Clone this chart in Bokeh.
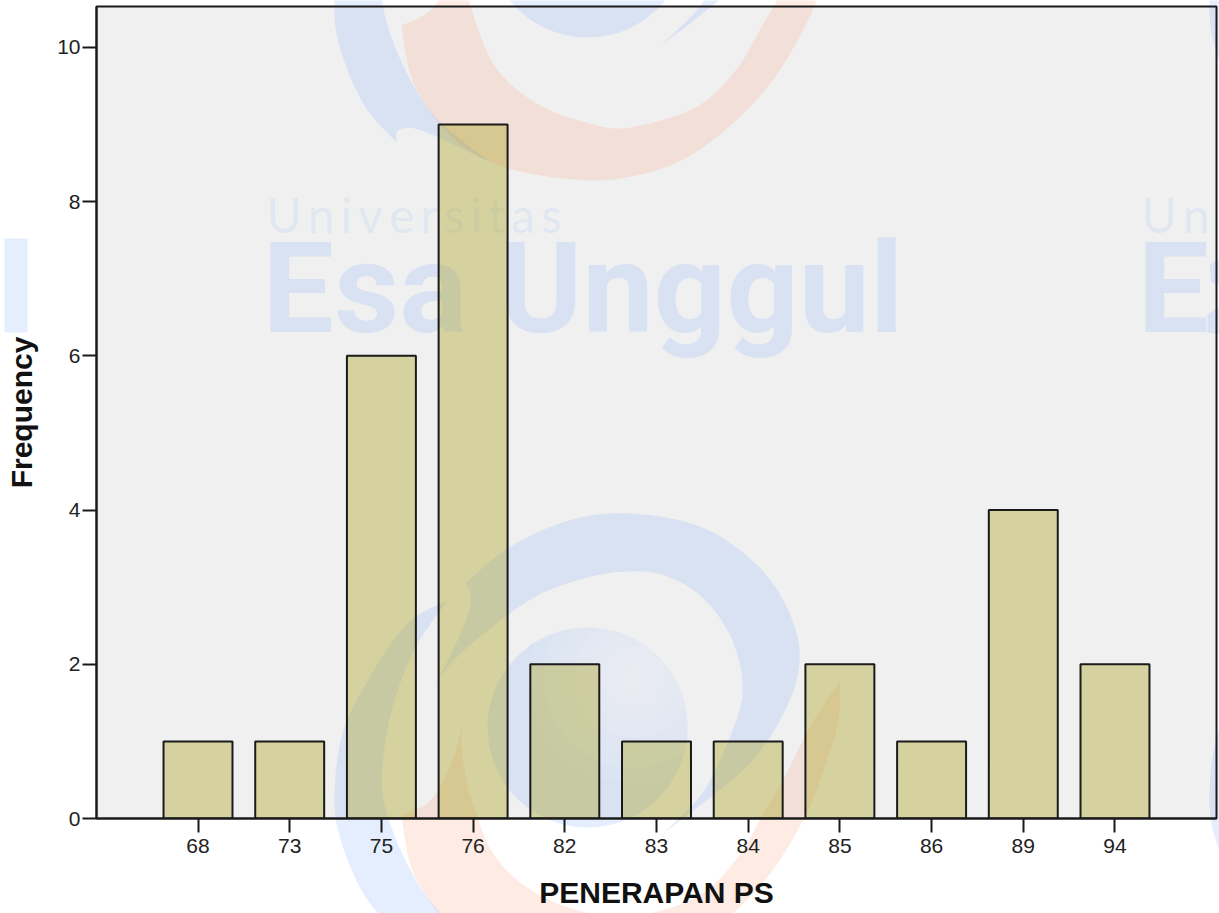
import math
from bokeh.plotting import figure
from bokeh.core.properties import value
from bokeh.models import FactorRange, Range1d, FixedTicker, ColumnDataSource
from bokeh.embed import file_html
from bokeh.resources import INLINE

categories = ["68", "73", "75", "76", "82", "83", "84", "85", "86", "89", "94"]
frequency = [1, 1, 6, 9, 2, 1, 1, 2, 1, 4, 2]
y_ticks = [0, 2, 4, 6, 8, 10]
x_title = "PENERAPAN PS"
y_title = "Frequency"

BLUE = "#78aafa"
ORANGE = "#fa9b78"
BG = "#f0f0f0"
INK = "#1a1a1a"
W, H = 1219, 913
LEFT, RIGHT, TOP, BASE = 96, 1216, 6, 818


def spline(pts, n=10):
    out = []
    for i in range(len(pts) - 1):
        p0 = pts[max(i - 1, 0)]
        p1 = pts[i]
        p2 = pts[i + 1]
        p3 = pts[min(i + 2, len(pts) - 1)]
        for k in range(n):
            t = k / n
            out.append(tuple(
                0.5 * (2 * p1[c] + (p2[c] - p0[c]) * t
                       + (2 * p0[c] - 5 * p1[c] + 4 * p2[c] - p3[c]) * t * t
                       + (3 * p1[c] - p0[c] - 3 * p2[c] + p3[c]) * t ** 3)
                for c in (0, 1)))
    out.append(pts[-1])
    return out


def outline(*segments):
    res = []
    for s in segments:
        res += spline(s)
    return res


def circle(cx, cy, r, n=64):
    return [(cx + r * math.cos(2 * math.pi * i / n), cy + r * math.sin(2 * math.pi * i / n)) for i in range(n)]


def clip_halfplane(shape, a, b, c):
    """keep the points with a*x + b*y >= c"""
    res = []
    for i, q in enumerate(shape):
        r = shape[(i + 1) % len(shape)]
        dq = a * q[0] + b * q[1] - c
        dr = a * r[0] + b * r[1] - c
        if dq >= 0:
            res.append(q)
        if (dq >= 0) != (dr >= 0):
            t = dq / (dq - dr)
            res.append((q[0] + t * (r[0] - q[0]), q[1] + t * (r[1] - q[1])))
    return res


def clip_circle(shape, cx, cy, r, n=64):
    for i in range(n):
        ang = 2 * math.pi * (i + 0.5) / n
        a, b = -math.cos(ang), -math.sin(ang)
        c = a * cx + b * cy - r
        shape = clip_halfplane(shape, a, b, c)
        if not shape:
            break
    return shape


swirl = outline(
    [(465, 583), (507, 548), (568, 520), (629, 513), (702, 527), (759, 567), (790, 615), (799, 660), (786, 707), (752, 760), (702, 803), (660, 835)],
    [(660, 835), (700, 795), (725, 747), (742, 693), (732, 640), (702, 597), (664, 575), (629, 571), (587, 577), (537, 595), (491, 627), (453, 660), (432, 688)],
    [(432, 688), (449, 657), (468, 613), (470, 593), (465, 583)],
)
crescent = outline(
    [(447, 600), (407, 623), (369, 677), (342, 733), (334, 797), (341, 842), (364, 895), (396, 932)],
    [(396, 932), (398, 920), (421, 920), (490, 952)],
    [(490, 952), (436, 908), (406, 862), (385, 808), (382, 767), (392, 707), (415, 647), (447, 600)],
)
flame = outline(
    [(463, 723), (449, 767), (430, 800), (401, 815)],
    [(401, 815), (413, 873), (448, 923), (494, 953), (555, 967), (620, 968), (690, 945), (760, 885), (805, 815), (828, 755), (838, 720), (840, 679)],
    [(840, 679), (809, 727), (785, 775), (762, 815), (735, 860), (695, 897), (630, 917), (589, 913), (536, 893), (494, 855), (470, 795), (461, 747), (463, 723)],
)
BALL = (587, 727, 100)
GLOW = (633, 677)

# page-sized layer holding the plot background and the watermark
back = figure(width=W, height=H, output_backend="svg", toolbar_location=None,
              x_range=Range1d(0, W), y_range=Range1d(H, 0),
              x_axis_location=None, y_axis_location=None, min_border=0,
              outline_line_color=None, background_fill_color="white", border_fill_color="white")
back.xgrid.visible = False
back.ygrid.visible = False
back.quad(left=LEFT, right=RIGHT, top=TOP, bottom=BASE, fill_color=BG, line_alpha=0)


def poly(shape, color, dx=0, dy=0, alpha=0.2):
    back.patch([a + dx for a, _ in shape], [b + dy for _, b in shape],
               fill_color=color, fill_alpha=alpha, line_alpha=0)


for dy in (0, -790):
    poly(flame, ORANGE, 0, dy)
    poly(circle(*BALL), BLUE, 0, dy)
    for r in (105, 90, 75, 60, 45, 32, 20, 10):
        poly(clip_circle(circle(GLOW[0], GLOW[1], r), *BALL), BG, 0, dy, 0.15)
    poly(swirl, BLUE, 0, dy)
    for dx in (0, 875):
        poly(crescent, BLUE, dx, dy)

# fragments of the neighbouring watermark letters at the page edges
poly([(4, 238), (27, 238), (27, 332), (4, 332)], BLUE, alpha=0.2)
poly([(1209, 264), (1219, 258), (1219, 284), (1211, 282)], BLUE)
poly([(1207, 314), (1219, 306), (1219, 334), (1207, 332)], BLUE)

for txt, x, y, size, font, style, alpha in (
    ("U\u2009n\u2009i\u2009v\u2009e\u2009r\u2009s\u2009i\u2009t\u2009a\u2009s", 266, 214, "48px", "Lato", "normal", 0.12),
    ("Esa Unggul", 262, 288, "127px", "Roboto", "bold", 0.2),
    ("U\u2009n", 1141, 214, "48px", "Lato", "normal", 0.12),
    ("E", 1137, 288, "127px", "Roboto", "bold", 0.2),
):
    back.text(x=[x], y=[y], text=[txt], text_font=value(font), text_font_size=value(size),
              text_font_style=style, text_color=BLUE, text_alpha=alpha, text_baseline="alphabetic")

p = figure(width=W, height=H, output_backend="svg", toolbar_location=None,
           x_range=FactorRange(factors=categories, range_padding=0.607, range_padding_units="absolute"),
           y_range=Range1d(0, 10.53),
           min_border_left=LEFT, min_border_right=W - RIGHT, min_border_top=TOP, min_border_bottom=H - BASE,
           background_fill_alpha=0, border_fill_alpha=0, margin=(-H, 0, 0, 0))

src = ColumnDataSource(dict(cat=categories, freq=frequency))
p.vbar(x="cat", top="freq", bottom=0, width=0.752, source=src,
       fill_color="#a69a0b", fill_alpha=0.35, line_color=INK, line_width=2)

p.xgrid.visible = False
p.ygrid.visible = False
p.outline_line_color = INK
p.outline_line_width = 2

for ax in (p.xaxis[0], p.yaxis[0]):
    ax.axis_line_color = INK
    ax.axis_line_width = 2
    ax.major_tick_line_color = INK
    ax.major_tick_line_width = 2
    ax.major_tick_out = 14
    ax.major_tick_in = 0
    ax.minor_tick_line_color = None
    ax.major_label_text_font = "Liberation Sans"
    ax.major_label_text_font_size = "21px"
    ax.major_label_text_color = "#222222"
    ax.axis_label_text_font = "Liberation Sans"
    ax.axis_label_text_font_style = "bold"
    ax.axis_label_text_font_size = "30px"
    ax.axis_label_text_color = "#111111"

p.yaxis[0].ticker = FixedTicker(ticks=y_ticks)
p.yaxis[0].major_label_standoff = 2
p.yaxis[0].axis_label = y_title
p.yaxis[0].axis_label_standoff = 16
p.xaxis[0].axis_label = x_title
p.xaxis[0].major_label_standoff = 6
p.xaxis[0].axis_label_standoff = 20

open("out.html", "w").write(file_html([back, p], INLINE))
